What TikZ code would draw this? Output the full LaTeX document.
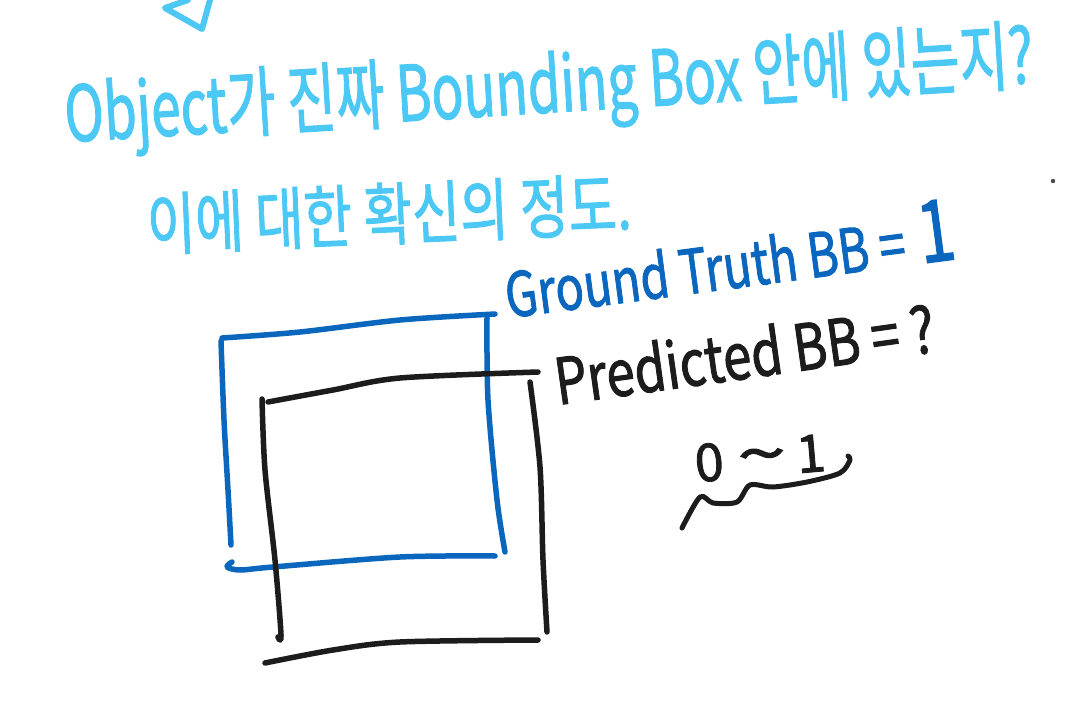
\documentclass[tikz,border=0pt]{standalone}
\usepackage{fontspec}
\setmainfont{Noto Sans CJK KR}[FakeBold=1.6]
\definecolor{sky}{HTML}{4CC8F4}
\definecolor{gtblue}{HTML}{0B67BE}
\definecolor{ink}{HTML}{1C1C1C}
\begin{document}
\begin{tikzpicture}[x=1pt,y=-1pt,
  pen/.style={line width=5.5pt, line cap=round, line join=round},
  label/.style={inner sep=0pt, anchor=base west}]
\useasboundingbox (0,0) rectangle (1082,722);
\fill[white] (0,0) rectangle (1082,722);

% partial triangle at top
\draw[pen, sky, line width=6pt] (188,0) -- (165,8) -- (202,29) -- (210,0);

% texts
\node[label, rotate=3.5, yscale=1.45, text=sky, font=\fontsize{53}{60}\selectfont] (q1) at (66,142)
  {Object가 진짜 Bounding Box 안에 있는지?};
\node[label, rotate=2.5, yscale=1.3, text=sky, font=\fontsize{52.5}{60}\selectfont] (q2) at (148,250)
  {이에 대한 확신의 정도.};
\node[label, rotate=7.5, yscale=1.3, text=gtblue, font=\fontsize{47}{52}\selectfont] (gt) at (508,318)
  {Ground Truth BB =\hspace{14pt}{\fontsize{66}{66}\selectfont 1}};
\node[label, rotate=8, yscale=1.25, text=ink, font=\fontsize{51}{60}\selectfont] (pr) at (558,405)
  {Predicted BB = ?};
\node[inner sep=0pt, rotate=5, text=ink, font=\fontsize{52}{60}\selectfont] (rng) at (760,458)
  {0\hspace{14pt}\scalebox{1.7}[1.2]{\textasciitilde}\hspace{10pt}1};

% ground truth box (blue)
\draw[pen, gtblue] plot[smooth] coordinates {(222,338) (300,332) (400,320) (495,314)};
\draw[pen, gtblue] plot[smooth] coordinates {(221,341) (224,420) (228,490) (231,545)};
\draw[pen, gtblue] plot[smooth] coordinates {(487,318) (488,400) (497,500) (505,552)};
\draw[pen, gtblue] plot[smooth] coordinates {(232,562) (227,567) (240,570) (273,567) (400,557) (495,556)};

% predicted box (black)
\draw[pen, ink] plot[smooth] coordinates {(268,402) (333,390) (400,378) (538,372)};
\draw[pen, ink] plot[smooth] coordinates {(262,399) (265,470) (275,560) (281,635) (278,637)};
\draw[pen, ink] plot[smooth] coordinates {(530,382) (540,467) (543,560) (547,632)};
\draw[pen, ink] plot[smooth] coordinates {(265,663) (333,650) (400,642) (538,640)};

% brace under 0~1
\draw[pen, ink, line width=5pt] plot[smooth] coordinates {(682,528) (700,497) (713,503) (737,502) (750,485) (773,487) (807,482) (840,473) (850,460) (848,456)};

% stray dot
\fill[ink!80] (1053,181) circle (2.2);
\end{tikzpicture}
\end{document}
